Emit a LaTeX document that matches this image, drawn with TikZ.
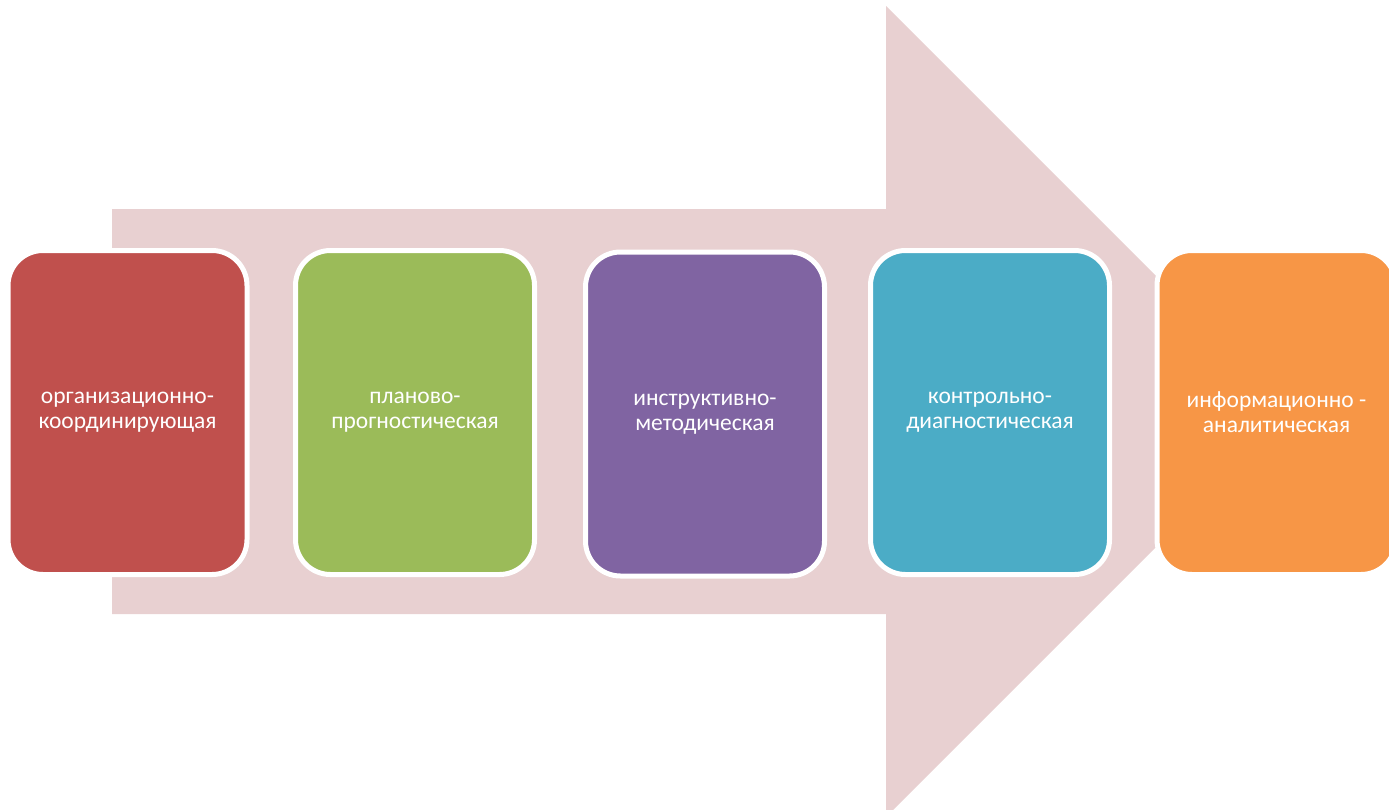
\documentclass[tikz,border=0pt]{standalone}
\usepackage{fontspec}
\setmainfont{Carlito}
\definecolor{arrowpink}{HTML}{E8D0D1}
\definecolor{cred}{HTML}{C0504D}
\definecolor{cgreen}{HTML}{9BBB59}
\definecolor{cpurple}{HTML}{8064A2}
\definecolor{ccyan}{HTML}{4BACC6}
\definecolor{corange}{HTML}{F79646}
\tikzset{
  stagebox/.style={draw=white, line width=5pt, rounded corners=35pt,
    minimum width=239pt, minimum height=324pt, inner sep=0pt,
    text=white, align=center,
    font=\fontsize{23.5}{25}\selectfont}
}
\begin{document}
\begin{tikzpicture}[x=1pt,y=-1pt]
\useasboundingbox (0,0) rectangle (1389,809);
\fill[arrowpink] (112,209) -- (886,209) -- (886,6) -- (1291.5,411.5) -- (886,817) -- (886,614) -- (112,614) -- cycle;
\node[stagebox, fill=cred] (b1) at (127.5,412.5) {организационно-\\координирующая};
\node[stagebox, fill=cgreen] (b2) at (415,412.5) {планово-\\прогностическая};
\node[stagebox, fill=cpurple] (b3) at (705,414) {инструктивно-\\методическая};
\node[stagebox, fill=ccyan] (b4) at (990,412.5) {контрольно-\\диагностическая};
\node[stagebox, fill=corange] (b5) at (1276.5,412.5) {информационно -\\аналитическая};
\end{tikzpicture}
\end{document}
